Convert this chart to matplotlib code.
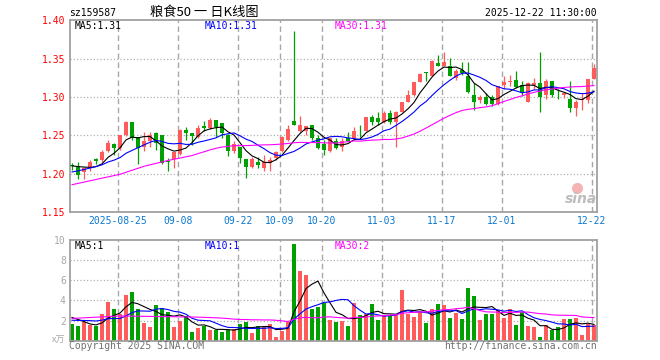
import numpy as np
import pandas as pd
import matplotlib
matplotlib.use('Agg')
import matplotlib.pyplot as plt

plt.rcParams['lines.scale_dashes'] = False
MONO = 'DejaVu Sans Mono'
CJK = ['Noto Sans CJK SC', 'DejaVu Sans']

symbol = 'sz159587'
title = '粮食50 一 日K线图'
stamp = '2025-12-22 11:30:00'

start_date = '2025-08-13'
end_date = '2025-12-22'
holidays = ['2025-10-01', '2025-10-02', '2025-10-03', '2025-10-06', '2025-10-07', '2025-10-08']

open_ = [1.211, 1.210, 1.202, 1.208, 1.219, 1.218, 1.229, 1.239, 1.233, 1.250,
         1.268, 1.248, 1.235, 1.242, 1.253, 1.250, 1.216, 1.219, 1.225, 1.257,
         1.253, 1.248, 1.262, 1.259, 1.270, 1.266, 1.250, 1.229, 1.235, 1.219,
         1.209, 1.215, 1.207, 1.214, 1.220, 1.229, 1.244, 1.269, 1.255, 1.255,
         1.264, 1.246, 1.239, 1.229, 1.243, 1.235, 1.246, 1.246, 1.251, 1.256,
         1.274, 1.273, 1.268, 1.279, 1.268, 1.281, 1.294, 1.302, 1.320, 1.332,
         1.328, 1.344, 1.341, 1.340, 1.325, 1.335, 1.328, 1.302, 1.296, 1.300,
         1.300, 1.291, 1.316, 1.320, 1.322, 1.315, 1.294, 1.316, 1.318, 1.302,
         1.321, 1.303, 1.303, 1.297, 1.285, 1.296, 1.296, 1.324]
high = [1.214, 1.215, 1.209, 1.218, 1.221, 1.231, 1.244, 1.240, 1.251, 1.269,
        1.268, 1.248, 1.254, 1.254, 1.254, 1.251, 1.221, 1.228, 1.258, 1.261,
        1.253, 1.263, 1.269, 1.273, 1.270, 1.266, 1.252, 1.242, 1.235, 1.219,
        1.222, 1.222, 1.224, 1.222, 1.229, 1.249, 1.264, 1.386, 1.275, 1.262,
        1.264, 1.250, 1.244, 1.246, 1.246, 1.246, 1.254, 1.261, 1.264, 1.274,
        1.277, 1.280, 1.282, 1.283, 1.282, 1.294, 1.309, 1.320, 1.331, 1.332,
        1.348, 1.355, 1.359, 1.351, 1.336, 1.345, 1.346, 1.318, 1.303, 1.305,
        1.303, 1.314, 1.327, 1.329, 1.334, 1.321, 1.319, 1.325, 1.359, 1.323,
        1.321, 1.311, 1.307, 1.321, 1.296, 1.305, 1.324, 1.343]
low = [1.205, 1.193, 1.193, 1.204, 1.213, 1.215, 1.228, 1.224, 1.231, 1.249,
       1.244, 1.213, 1.230, 1.235, 1.231, 1.213, 1.204, 1.207, 1.224, 1.244,
       1.237, 1.247, 1.255, 1.258, 1.248, 1.247, 1.223, 1.227, 1.214, 1.194,
       1.207, 1.208, 1.204, 1.204, 1.218, 1.228, 1.243, 1.263, 1.254, 1.250,
       1.244, 1.232, 1.224, 1.228, 1.232, 1.229, 1.242, 1.245, 1.248, 1.255,
       1.264, 1.264, 1.266, 1.265, 1.235, 1.280, 1.293, 1.301, 1.319, 1.321,
       1.328, 1.340, 1.340, 1.327, 1.322, 1.329, 1.305, 1.283, 1.292, 1.290,
       1.288, 1.290, 1.310, 1.314, 1.312, 1.301, 1.293, 1.311, 1.280, 1.297,
       1.300, 1.297, 1.299, 1.280, 1.275, 1.283, 1.292, 1.323]
close = [1.210, 1.198, 1.207, 1.215, 1.216, 1.228, 1.240, 1.234, 1.250, 1.268,
         1.247, 1.234, 1.243, 1.250, 1.240, 1.214, 1.215, 1.228, 1.257, 1.253,
         1.249, 1.260, 1.260, 1.270, 1.261, 1.253, 1.229, 1.239, 1.220, 1.209,
         1.219, 1.211, 1.215, 1.218, 1.228, 1.248, 1.258, 1.264, 1.264, 1.262,
         1.246, 1.234, 1.231, 1.246, 1.233, 1.243, 1.243, 1.256, 1.250, 1.274,
         1.268, 1.268, 1.279, 1.267, 1.281, 1.294, 1.302, 1.320, 1.330, 1.331,
         1.347, 1.341, 1.346, 1.327, 1.334, 1.331, 1.306, 1.293, 1.300, 1.291,
         1.291, 1.314, 1.320, 1.321, 1.313, 1.306, 1.318, 1.318, 1.300, 1.321,
         1.303, 1.302, 1.305, 1.285, 1.294, 1.297, 1.324, 1.338]
volume = [1.63, 1.43, 1.83, 1.53, 1.43, 2.63, 3.83, 3.13, 2.70, 4.53,
          4.83, 3.13, 1.73, 1.33, 3.50, 3.23, 2.83, 1.33, 1.93, 2.43,
          0.83, 1.23, 1.43, 1.03, 1.10, 0.83, 1.10, 1.20, 1.63, 1.83,
          0.73, 1.43, 1.40, 1.63, 0.33, 0.93, 1.83, 9.63, 6.93, 6.57,
          3.13, 3.33, 3.77, 2.03, 1.83, 1.97, 1.43, 3.73, 2.53, 2.70,
          3.63, 2.03, 2.53, 2.43, 2.53, 5.03, 2.67, 2.33, 2.87, 1.73,
          3.13, 3.63, 3.53, 2.23, 2.73, 2.13, 5.23, 4.43, 2.03, 2.63,
          2.63, 3.03, 2.23, 3.13, 1.53, 2.83, 1.43, 1.33, 0.33, 1.53,
          1.03, 1.33, 2.13, 2.13, 2.23, 0.53, 1.67, 1.53]
# estimated history before the first shown day (only feeds the moving averages)
prior_close = [1.147, 1.156, 1.164, 1.165, 1.177, 1.189, 1.183, 1.199, 1.190, 1.169,
               1.156, 1.165, 1.193, 1.183, 1.157, 1.158, 1.180, 1.209, 1.205, 1.201,
               1.183, 1.190, 1.196, 1.197, 1.205, 1.203, 1.210, 1.217, 1.211]
prior_volume = [0.5, 0.9, 0.6, 0.5, 1.7, 2.9, 2.2, 1.8,
                4.8, 5.1, 3.4, 2.0, 1.6, 3.8, 3.5, 3.1, 1.6, 2.2, 2.7, 1.1,
                1.6, 1.9, 1.7, 1.8, 1.8, 2.4, 2.9, 2.7, 1.9]

tick_dates = ['2025-08-25', '2025-09-08', '2025-09-22', '2025-10-09', '2025-10-20',
              '2025-11-03', '2025-11-17', '2025-12-01', '2025-12-22']
tick_labels = ['2025-08-25', '09-08', '09-22', '10-09', '10-20', '11-03', '11-17', '12-01', '12-22']
price_ticks = [1.15, 1.20, 1.25, 1.30, 1.35, 1.40]
vol_ticks = [2, 4, 6, 8, 10]
ma_windows = [5, 10, 30]
ma_colors = ['#000000', '#0000FF', '#FF00FF']

RED = '#FF5B5B'
GREEN = '#00A000'
FRAME = '#A0A0A0'
GRID = '#A8A8A8'

days = pd.bdate_range(start_date, end_date)
days = days[~days.isin(pd.to_datetime(holidays))]
x = np.arange(len(days))
o, h, l, c, v = map(np.asarray, (open_, high, low, close, volume))
up = c >= o
colors = np.where(up, RED, GREEN)

def mas(prior, series):
    full = pd.Series(np.concatenate([prior, series]))
    n0 = len(prior)
    return [full.rolling(w).mean().values[n0:] for w in ma_windows]

price_ma = mas(prior_close, c)
vol_ma = mas(prior_volume, v)

W, H = 660, 360
fig = plt.figure(figsize=(W / 100, H / 100), dpi=100)
fig.patch.set_facecolor('white')

def fx(px):
    return px / W

def fy(py):
    return 1 - py / H

L, R = 70, 597
ax = fig.add_axes([fx(L), fy(212), (R - L) / W, (212 - 20.3) / H])
axv = fig.add_axes([fx(L), fy(340.7), (R - L) / W, (340.7 - 240) / H])

tick_pos = np.array([days.get_loc(pd.Timestamp(d)) for d in tick_dates]) - 1 / 3

for a in (ax, axv):
    a.set_xlim(-1 / 3, len(x) - 0.5)
    for s in a.spines.values():
        s.set_color(FRAME)
        s.set_linewidth(1.3)
    for tp in tick_pos:
        a.axvline(tp, color=GRID, lw=1.0, dashes=(4, 2.5), zorder=0)
    a.tick_params(length=0)

# price panel
ax.set_ylim(price_ticks[0], price_ticks[-1])
for yv in price_ticks[1:-1]:
    ax.axhline(yv, color=GRID, lw=0.9, dashes=(0.8, 1.6), zorder=0)
ax.vlines(x, l, h, colors=colors, lw=0.9, zorder=2)
body_h = np.maximum(np.abs(c - o), 0.0009)
ax.bar(x, body_h, bottom=np.minimum(o, c), width=0.75, color=colors, lw=0, zorder=3)
for m, col in zip(price_ma, ma_colors):
    ax.plot(x, m, color=col, lw=0.8, zorder=4)
ax.set_yticks(price_ticks)
ax.set_yticklabels([f'{t:.2f}' for t in price_ticks], color='#FF0000', fontfamily=MONO, fontsize=7)
ax.set_xticks(tick_pos)
ax.set_xticklabels(tick_labels, color='#0A78D0', fontfamily=MONO, fontsize=7)
ax.tick_params(axis='y', pad=3)
ax.tick_params(axis='x', pad=3)

# volume panel
axv.set_ylim(0, vol_ticks[-1])
for yv in vol_ticks[:-1]:
    axv.axhline(yv, color=GRID, lw=0.9, dashes=(0.8, 1.6), zorder=0)
axv.bar(x, v, width=0.83, color=colors, lw=0, zorder=2)
for m, col in zip(vol_ma, ma_colors):
    axv.plot(x, m, color=col, lw=0.8, zorder=4)
axv.set_yticks(vol_ticks)
axv.set_yticklabels([str(t) for t in vol_ticks], color='#A8A8A8', fontfamily=MONO, fontsize=7)
axv.tick_params(axis='y', pad=3)
axv.set_xticks([])

# header texts
fig.text(fx(69.4), fy(13), symbol, fontfamily=MONO, fontsize=7, va='center', ha='left')
fig.text(fx(150), fy(12.5), title, fontfamily=CJK, fontsize=9.5, va='center', ha='left')
fig.text(fx(597), fy(13), stamp, fontfamily=MONO, fontsize=7, va='center', ha='right')

# MA legends
ma_x = [75, 205, 334.6]
for i, (w, col) in enumerate(zip(ma_windows, ma_colors)):
    fig.text(fx(ma_x[i]), fy(26.3), f'MA{w}:{price_ma[i][-1]:.2f}', color=col,
             fontfamily=MONO, fontsize=7, va='center', ha='left')
    fig.text(fx(ma_x[i]), fy(246), f'MA{w}:{int(vol_ma[i][-1])}', color=col,
             fontfamily=MONO, fontsize=7, va='center', ha='left')

fig.text(fx(65), fy(340), 'x万', color='#A8A8A8', fontfamily=CJK, fontsize=6.5, va='center', ha='right')
fig.text(fx(69), fy(345.8), 'Copyright 2025 SINA.COM', color='#707070', fontfamily=MONO, fontsize=7, va='center', ha='left')
fig.text(fx(597), fy(345.8), 'http://finance.sina.com.cn', color='#707070', fontfamily=MONO, fontsize=7, va='center', ha='right')

# sina watermark
fig.text(fx(581), fy(199), 'sina', color='#BDBDBD', fontsize=10, fontweight='bold', fontstyle='italic',
         va='center', ha='center', fontfamily='DejaVu Sans')
fig.lines.append(plt.Line2D([fx(577)], [fy(188)], marker='o', markersize=7, color='#F6B3B3',
                            transform=fig.transFigure, figure=fig))

fig.savefig('out.png', dpi=100)
